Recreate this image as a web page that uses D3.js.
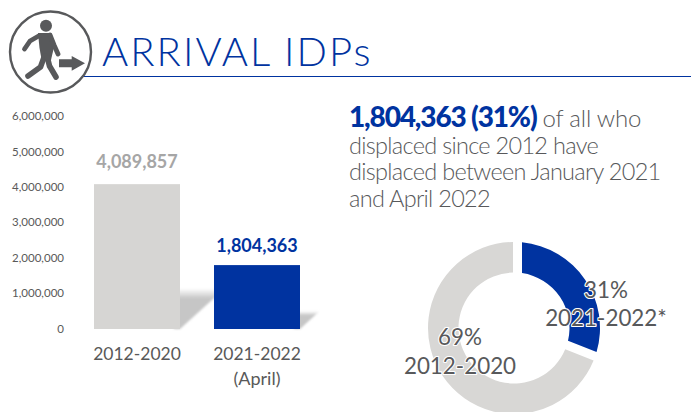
<!DOCTYPE html>
<html><head><meta charset="utf-8">
<script src="https://cdn.jsdelivr.net/npm/d3@7"></script>
<style>html,body{margin:0;padding:0;background:#fff;overflow:hidden}svg{display:block}text{font-family:Lato,sans-serif}</style>
</head><body><svg id="c" width="691" height="412"></svg>
<script>
const categories=["2012-2020","2021-2022"];
const categorySub=["","(April)"];
const values=[4089857,1804363];
const valueLabels=["4,089,857","1,804,363"];
const labelColors=["#a6a6a6","#0033a0"];
const barColors=["#d6d5d3","#0033a0"];
const yTicks=[0,1000000,2000000,3000000,4000000,5000000,6000000];
const donutShares=[31,69];
const donutNames=["2021-2022*","2012-2020"];
const donutColors=["#0033a0","#d8d7d5"];
const titleText="ARRIVAL IDPs";
const headlineBold="1,804,363 (31%)";
const headlineRest="of all who";
const bodyLines=["displaced since 2012 have","displaced between January 2021","and April 2022"];

const svg=d3.select("#c");
const defs=svg.append("defs");
const blur=defs.append("filter").attr("id","blur").attr("x","-30%").attr("y","-50%").attr("width","160%").attr("height","200%");
blur.append("feGaussianBlur").attr("stdDeviation",1.2);
const grad=defs.append("linearGradient").attr("id","sh").attr("x1",0).attr("x2",0).attr("y1",0).attr("y2",1);
grad.append("stop").attr("offset",0).attr("stop-color","#c6c6c6").attr("stop-opacity",0);
grad.append("stop").attr("offset",.25).attr("stop-color","#c6c6c6").attr("stop-opacity",1);
grad.append("stop").attr("offset",1).attr("stop-color","#c6c6c6").attr("stop-opacity",1);

/* header */
const ink="#58595b",blue="#0033a0";
svg.append("line").attr("x1",83).attr("x2",691).attr("y1",76.5).attr("y2",76.5).attr("stroke",blue).attr("stroke-width",1.2);
svg.append("circle").attr("cx",50.5).attr("cy",52).attr("r",40.5).attr("fill","#fff").attr("stroke",ink).attr("stroke-width",2.4);
const person=svg.append("g");
person.append("circle").attr("cx",46).attr("cy",25.7).attr("r",6).attr("fill",ink);
person.append("path").attr("fill",ink).attr("d","M38 33 L51.5 33 L54 47 L51 60 L42 62 L39.5 48 Z");
[["M39.5 35.5 L30 41 L24.5 49",4.8],["M50 35 L54 45 L58 54",4.8],["M44.5 56 L40.5 67 L28 76",5.6],["M47.5 58 L49.5 66 L56 77",5.6]].forEach(([p,w])=>
 person.append("path").attr("d",p).attr("fill","none").attr("stroke",ink).attr("stroke-width",w).attr("stroke-linecap","round").attr("stroke-linejoin","round"));
svg.append("path").attr("fill",ink).attr("d","M59 59.3 H71.7 V56 L85 63.3 L71.7 70.7 V67.3 H59 Z");
svg.append("text").attr("x",102).attr("y",66).attr("font-size",40).attr("font-weight",300).attr("fill",blue).attr("letter-spacing",2.05).text(titleText);

/* bars */
const y=d3.scaleLinear().domain([0,6000000]).range([329,116.5]);
const x=d3.scaleBand().domain(categories).range([82,312]).paddingInner(34/120).paddingOuter(.1);
const gAxis=svg.append("g").attr("transform","translate(68,0)").call(d3.axisLeft(y).tickValues(yTicks).tickFormat(d3.format(",")).tickSize(0).tickPadding(4));
gAxis.select(".domain").remove();
gAxis.selectAll("text").attr("font-size",11.5).attr("fill","#595959").attr("dy","0.28em").style("font-family","Lato,sans-serif");

const skewH=.28,skewX=1.1;
svg.append("g").attr("filter","url(#blur)").selectAll("path").data(values).join("path")
 .attr("fill","url(#sh)")
 .attr("d",(d,i)=>{const x1=x(categories[i])+x.bandwidth(),b=y(0),h=(b-y(d))*skewH,s=h*skewX;
   return `M${x1-6} ${b}L${x1} ${b}L${x1+s} ${b-h}L${x1-6} ${b-h}Z`;});
svg.append("g").selectAll("rect").data(values).join("rect")
 .attr("x",(d,i)=>x(categories[i])).attr("width",x.bandwidth())
 .attr("y",d=>y(d)).attr("height",d=>y(0)-y(d)).attr("fill",(d,i)=>barColors[i]);
svg.append("g").selectAll("text").data(valueLabels).join("text")
 .attr("x",(d,i)=>x(categories[i])+x.bandwidth()/2).attr("y",(d,i)=>y(values[i])-[16,13][i])
 .attr("text-anchor","middle").attr("font-size",18).attr("font-weight",700).attr("fill",(d,i)=>labelColors[i]).text(d=>d);
svg.append("g").selectAll("text").data(categories).join("text")
 .attr("x",d=>x(d)+x.bandwidth()/2).attr("y",360).attr("text-anchor","middle").attr("font-size",17.5).attr("fill","#595959").text(d=>d);
svg.append("g").selectAll("text").data(categorySub).join("text")
 .attr("x",(d,i)=>x(categories[i])+x.bandwidth()/2).attr("y",385).attr("text-anchor","middle").attr("font-size",18).attr("fill","#595959").text(d=>d);

/* headline */
const t=svg.append("text").attr("x",349).attr("y",127);
t.append("tspan").attr("font-size",28).attr("font-weight",900).attr("letter-spacing",-1.15).attr("fill",blue).text(headlineBold);
t.append("tspan").attr("dx",6).attr("font-size",24).attr("font-weight",300).attr("letter-spacing",-.2).attr("fill","#58595b").text(headlineRest);
svg.append("g").selectAll("text").data(bodyLines).join("text").attr("x",349).attr("y",(d,i)=>[154,180,207][i])
 .attr("font-size",23.5).attr("font-weight",300).attr("letter-spacing",-.7).attr("fill","#58595b").text(d=>d);

/* donut */
const pie=d3.pie().sort(null).value(d=>d);
const slices=pie(donutShares);
const padOffsets=[8,1];
const arc=d3.arc().innerRadius(55.5).outerRadius(86).padRadius(100).padAngle(d=>2*Math.asin(padOffsets[d.index]/100));
const gD=svg.append("g").attr("transform","translate(514,328)");
gD.selectAll("path").data(slices).join("path").attr("d",arc).attr("fill",(d,i)=>donutColors[i]);
const labelPos=[[606,298,326],[460,345,374]];
const lab=svg.append("g").selectAll("g").data(slices).join("g");
[s=>s.data+"%",s=>donutNames[s.index]].forEach((fn,k)=>{
  lab.append("text").attr("x",(d,i)=>labelPos[i][0]).attr("y",(d,i)=>labelPos[i][k+1]).attr("text-anchor","middle")
   .attr("font-size",22.4).attr("fill","#58595b").attr("stroke","#fff").attr("stroke-width",2.2).attr("stroke-linejoin","round").attr("paint-order","stroke").text(fn);
});
</script></body></html>
